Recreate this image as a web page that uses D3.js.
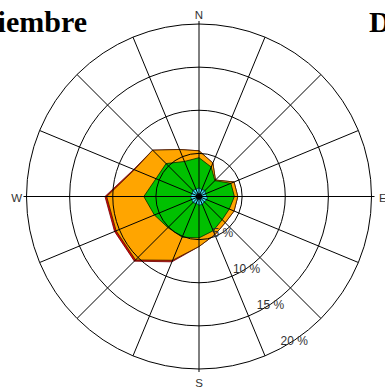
<!DOCTYPE html>
<html><head><meta charset="utf-8">
<script src="https://cdn.jsdelivr.net/npm/d3@7"></script>
<style>html,body{margin:0;padding:0;background:#fff;overflow:hidden}</style>
</head><body>
<svg id="c" width="385" height="392"></svg>
<script>
const directions = ["N","NNE","NE","ENE","E","ESE","SE","SSE","S","SSW","SW","WSW","W","WNW","NW","NNW"];
// cumulative frequencies (%) per speed class, outermost first
const redValues    = [5.3, 4.2, 2.7, 4.4, 4.5, 4.4, 4.3, 4.8, 5.8, 8.2, 10.6, 10.6, 10.9, 8.2, 7.6, 5.9];
const orangeValues = [5.3, 4.2, 2.7, 4.4, 4.5, 4.4, 4.3, 4.8, 5.8, 8.0, 10.4, 10.4, 10.7, 8.1, 7.6, 5.9];
const greenValues  = [4.5, 3.7, 2.6, 4.0, 4.1, 3.8, 3.8, 4.3, 4.8, 5.1, 5.1, 5.6, 6.4, 5.4, 5.4, 4.4];
const cyanValues   = [1.0, 0.85, 1.0, 0.8, 0.95, 1.0, 0.85, 1.0, 1.0, 0.85, 1.0, 0.9, 1.0, 0.85, 1.0, 0.9];
const navyValues   = [0.35, 0.3, 0.35, 0.3, 0.35, 0.3, 0.35, 0.3, 0.35, 0.3, 0.35, 0.3, 0.35, 0.3, 0.35, 0.3];
const ringValues = [5, 10, 15, 20];
const ringLabels = ["5 %", "10 %", "15 %", "20 %"];
const cardinalLabels = ["N", "E", "S", "W"];
const titleLeft = "Noviembre";
const titleRight = "Diciembre";

const svg = d3.select("#c");
const cx = 199, cy = 196.5, R = 172.5;
const r = d3.scaleLinear().domain([0, 20]).range([0, R]);
const ang = d3.scaleLinear().domain([0, directions.length]).range([0, 2 * Math.PI]);
const g = svg.append("g").attr("transform", `translate(${cx},${cy})`);

const line = d3.lineRadial()
  .angle((d, i) => ang(i))
  .radius(d => r(d))
  .curve(d3.curveLinearClosed);

const layers = [
  {v: redValues, fill: "#e00000", stroke: "#6a0000"},
  {v: orangeValues, fill: "#ffa500", stroke: "#3a2000"},
  {v: greenValues, fill: "#00c000", stroke: "#002800"},
  {v: cyanValues, fill: "#3ee6f6", stroke: "#003040"},
  {v: navyValues, fill: "#0a2a55", stroke: "#000"}
];
layers.forEach(L => {
  g.append("path").attr("d", line(L.v))
    .attr("fill", L.fill).attr("stroke", L.stroke).attr("stroke-width", 0.8)
    .attr("stroke-linejoin", "round");
});

// grid
g.selectAll("circle.ring").data(ringValues).enter().append("circle")
  .attr("r", d => r(d)).attr("fill", "none").attr("stroke", "#000").attr("stroke-width", 1);
g.selectAll("line.spoke").data(directions).enter().append("line")
  .attr("x1", 0).attr("y1", 0)
  .attr("x2", (d, i) => Math.sin(ang(i)) * (R + (i % 4 === 0 ? 3 : 0)))
  .attr("y2", (d, i) => -Math.cos(ang(i)) * (R + (i % 4 === 0 ? 3 : 0)))
  .attr("stroke", "#000").attr("stroke-width", 1);

// ring labels
const la = (180 - 33.5) * Math.PI / 180;
g.selectAll("text.rl").data(ringValues).enter().append("text")
  .attr("x", d => Math.sin(la) * r(d))
  .attr("y", d => -Math.cos(la) * r(d))
  .attr("text-anchor", "middle").attr("dy", "0.35em")
  .attr("font-family", "Liberation Sans, Arial, sans-serif").attr("font-size", 12)
  .attr("fill", "#333").text((d, i) => ringLabels[i]);

// cardinal labels
const cardPos = [
  {x: cx, y: 18.5, a: "middle"},
  {x: 379, y: 201.5, a: "start"},
  {x: cx, y: 387, a: "middle"},
  {x: 22, y: 201.5, a: "end"}
];
cardinalLabels.forEach((t, i) => {
  svg.append("text").attr("x", cardPos[i].x).attr("y", cardPos[i].y)
    .attr("text-anchor", cardPos[i].a)
    .attr("font-family", "Liberation Sans, Arial, sans-serif").attr("font-size", 11.5)
    .attr("fill", "#333").text(t);
});

// titles (partially out of view, as in the reference)
svg.append("text").attr("x", 87).attr("y", 31.5).attr("text-anchor", "end")
  .attr("font-family", "Liberation Serif, Times New Roman, serif").attr("font-weight", "bold")
  .attr("font-size", 30).attr("fill", "#000").text(titleLeft);
svg.append("text").attr("x", 369).attr("y", 31.5).attr("text-anchor", "start")
  .attr("font-family", "Liberation Serif, Times New Roman, serif").attr("font-weight", "bold")
  .attr("font-size", 30).attr("fill", "#000").text(titleRight);
</script>
</body></html>
